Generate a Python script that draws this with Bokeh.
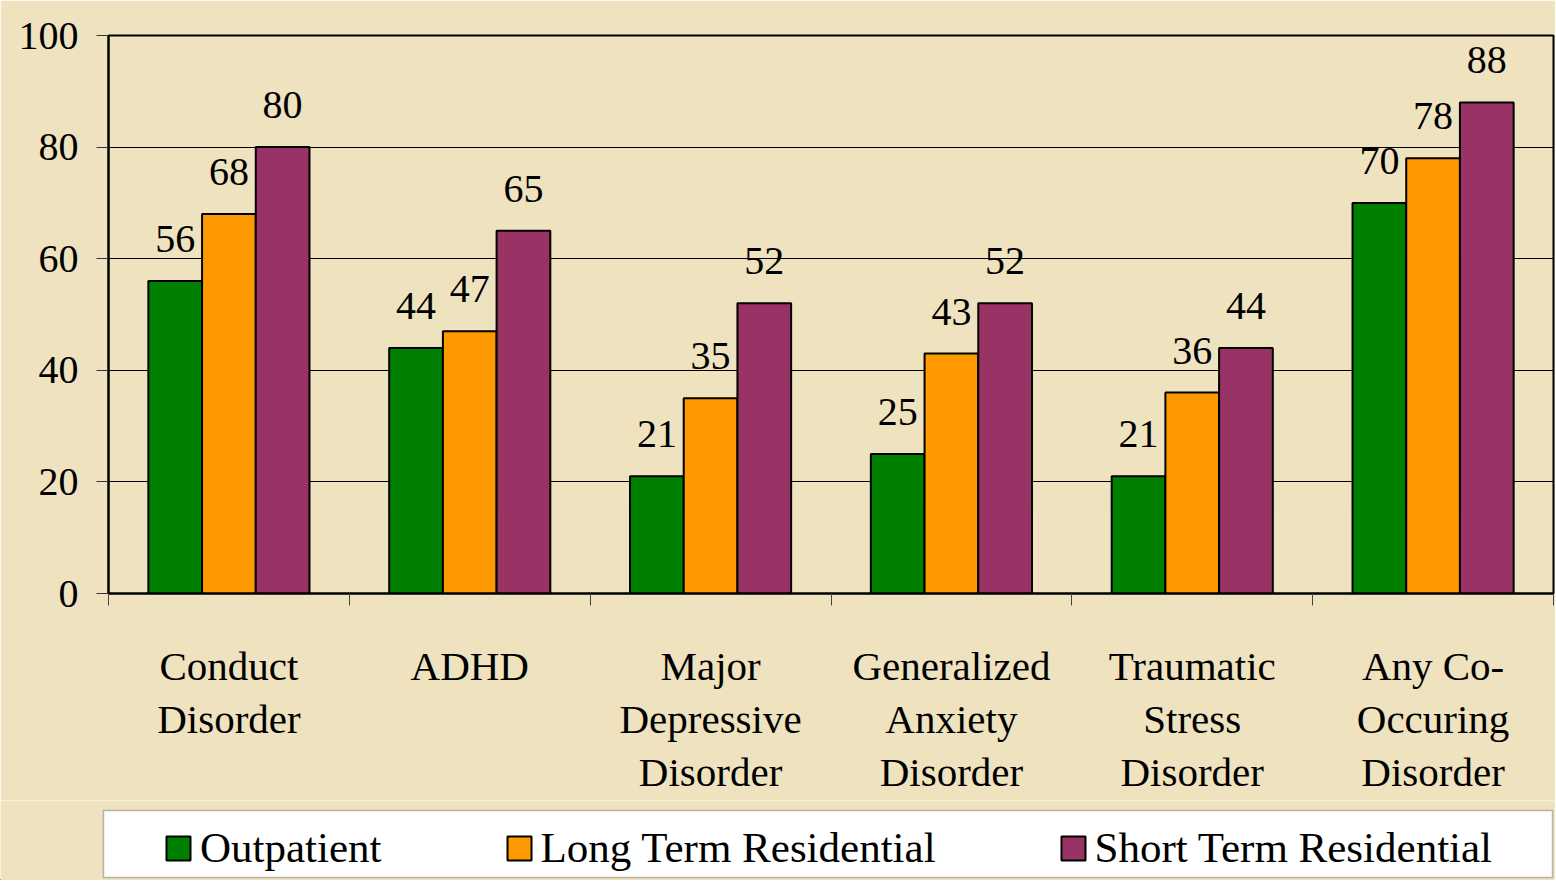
from bokeh.plotting import figure
from bokeh.layouts import column
from bokeh.models import (ColumnDataSource, Range1d, LinearAxis, BoxAnnotation,
                          FixedTicker, LabelSet, Legend, LegendItem)
from bokeh.transform import dodge
from bokeh.embed import file_html
from bokeh.resources import INLINE

# ---- data ----
categories = ["Conduct\nDisorder", "ADHD", "Major\nDepressive\nDisorder",
              "Generalized\nAnxiety\nDisorder", "Traumatic\nStress\nDisorder",
              "Any Co-\nOccuring\nDisorder"]
outpatient = [56, 44, 21, 25, 21, 70]
long_term = [68, 47, 35, 43, 36, 78]
short_term = [80, 65, 52, 52, 44, 88]
series_names = ["Outpatient", "Long Term Residential", "Short Term Residential"]
y_ticks = [0, 20, 40, 60, 80, 100]

FONT = "Liberation Serif"
BG = "#eee2bf"
colors = ["#008000", "#ff9900", "#993366"]

n = len(categories)
centers = [i + 0.5 for i in range(n)]

src = ColumnDataSource(dict(
    x=centers,
    out=outpatient, lt=long_term, st=short_term,
    out_s=[str(v) for v in outpatient],
    lt_s=[str(v) for v in long_term],
    st_s=[str(v) for v in short_term],
))

W = 1555
p = figure(x_range=Range1d(0, n), y_range=Range1d(0, 100),
           width=W, height=800, output_backend="svg", toolbar_location=None,
           x_axis_location=None, frame_align=False,
           min_border_left=108, min_border_top=35, min_border_right=2,
           min_border_bottom=207)
p.background_fill_color = BG
p.border_fill_color = BG
p.outline_line_color = "black"
p.outline_line_width = 2

bw = 0.223
for off, col, lab_col, c in [(-bw, "out", "out_s", colors[0]),
                             (0.0, "lt", "lt_s", colors[1]),
                             (bw, "st", "st_s", colors[2])]:
    p.vbar(x=dodge("x", off), top=col, width=bw, source=src,
           fill_color=c, line_color="black", line_width=2)
    p.add_layout(LabelSet(x=dodge("x", off), y=col, text=lab_col,
                          source=src, y_offset=29, text_align="center",
                          text_baseline="alphabetic", text_font=FONT,
                          text_font_size="40px", text_color="black"))

# y axis
yt = FixedTicker(ticks=y_ticks)
p.yaxis.ticker = yt
p.ygrid.ticker = yt
p.yaxis.axis_line_color = "black"
p.yaxis.axis_line_width = 2
p.yaxis.major_tick_out = 12
p.yaxis.major_tick_in = 0
p.yaxis.major_tick_line_color = "#333333"
p.yaxis.minor_tick_line_color = None
p.yaxis.major_label_text_font = FONT
p.yaxis.major_label_text_font_size = "40px"
p.yaxis.major_label_text_color = "black"
p.yaxis.major_label_standoff = 18
p.ygrid.grid_line_color = "black"
p.ygrid.grid_line_width = 1
p.xgrid.visible = False

# x boundary ticks axis
tick_axis = LinearAxis(ticker=FixedTicker(ticks=list(range(n + 1))),
                       major_tick_out=12, major_tick_in=0,
                       major_tick_line_color="#444444", minor_tick_line_color=None,
                       axis_line_color="black", axis_line_width=2,
                       major_label_text_font_size="1px", major_label_text_color=None,
                       major_label_standoff=0)
p.add_layout(tick_axis, "below")

cat_axis = LinearAxis(ticker=FixedTicker(ticks=centers),
                      major_label_overrides={c: lab for c, lab in zip(centers, categories)},
                      axis_line_color=None, major_tick_line_color=None,
                      minor_tick_line_color=None,
                      major_label_text_font=FONT, major_label_text_font_size="41px",
                      major_label_text_color="black",
                      major_label_text_line_height=1.16,
                      major_label_standoff=31)
p.add_layout(cat_axis, "below")

# ---- legend strip ----
LH = 80
lg = figure(x_range=Range1d(0, W), y_range=Range1d(0, LH), width=W, height=LH,
            output_backend="svg", toolbar_location=None, frame_align=False,
            x_axis_location=None, y_axis_location=None, min_border=0)
lg.background_fill_color = BG
lg.border_fill_color = BG
lg.outline_line_color = None
lg.xgrid.visible = False
lg.ygrid.visible = False
lg.add_layout(BoxAnnotation(left=103, right=1552, bottom=3, top=70,
                            fill_color="white", fill_alpha=1.0,
                            line_color="#222222", line_width=1.5))
# invisible proxy glyphs (placed off-range) that only serve as legend swatches
legend_renderers = [lg.vbar(x=[-1000], top=[0], width=1, fill_color=c, line_color="black",
                            line_width=2) for c in colors]
legend = Legend(items=[LegendItem(label=nm, renderers=[r])
                       for nm, r in zip(series_names, legend_renderers)],
                orientation="horizontal", location=(163, 8),
                label_text_font=FONT, label_text_font_size="43px", label_text_color="black",
                glyph_width=30, glyph_height=30, label_standoff=7, spacing=122,
                padding=0, margin=0,
                background_fill_alpha=0, border_line_color=None)
lg.add_layout(legend, "center")

layout = column(p, lg, spacing=0)

open("out.html", "w").write(file_html(layout, INLINE))
